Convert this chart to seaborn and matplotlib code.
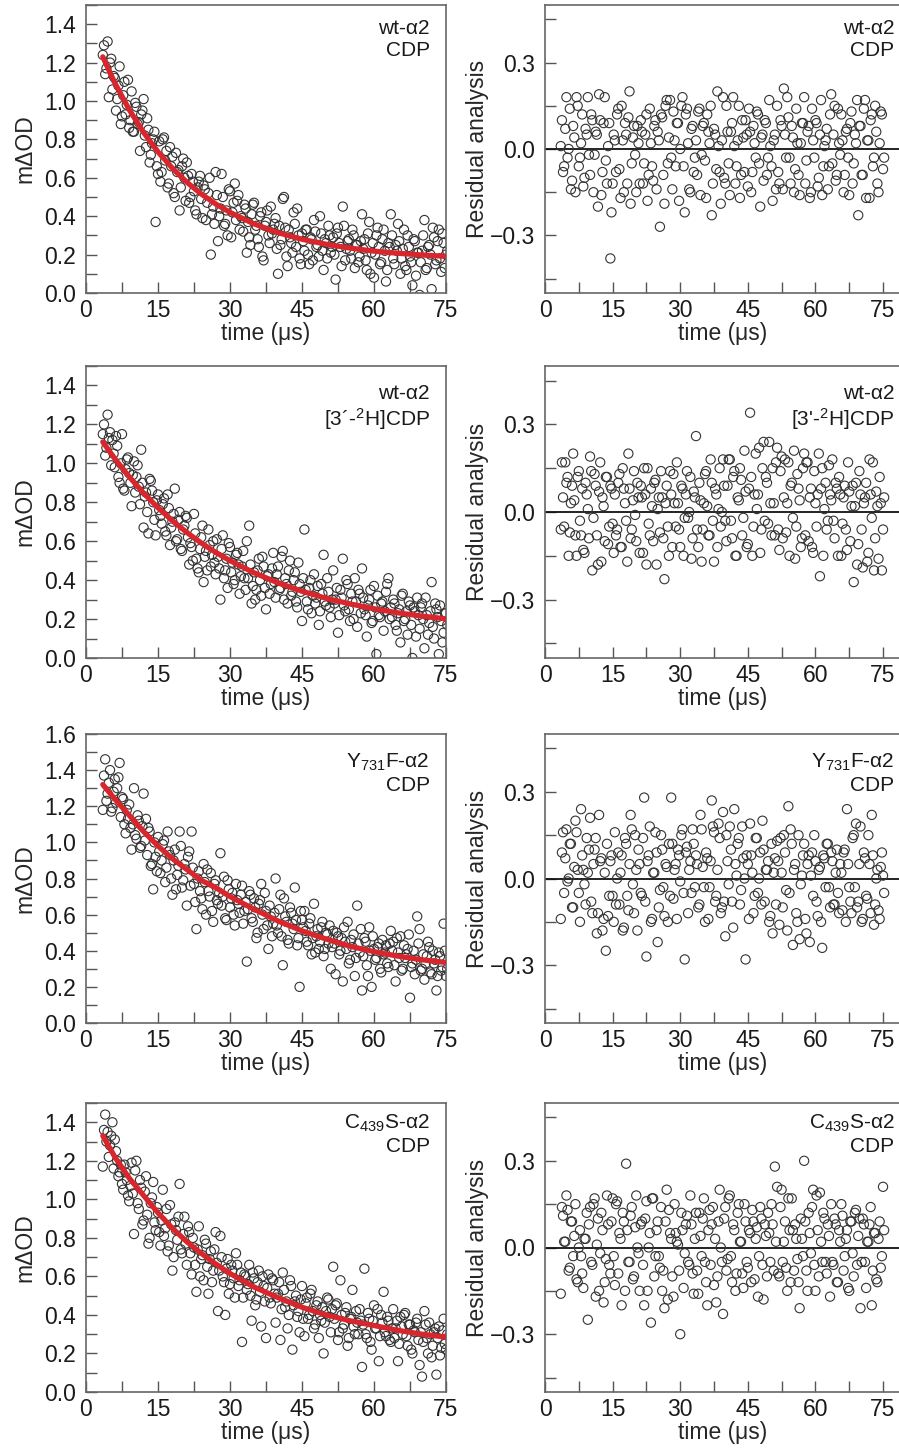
import matplotlib
matplotlib.use("Agg")
import matplotlib.pyplot as plt
import seaborn as sns
from matplotlib.ticker import MultipleLocator

sns.set_theme(style="ticks")
plt.rcParams['font.family'] = ['Liberation Sans', 'DejaVu Sans']
plt.rcParams['mathtext.fontset'] = 'custom'
plt.rcParams['mathtext.rm'] = 'Liberation Sans'
plt.rcParams['mathtext.it'] = 'Liberation Sans:italic'
plt.rcParams['mathtext.bf'] = 'Liberation Sans:bold'

# ---- data ----
# samples come in two interleaved sweeps
time_us = [
    3.5, 4.0, 4.5, 5.0, 5.5, 6.0, 6.5, 7.0, 7.5, 8.0, 8.5, 9.0,
    9.5, 10.0, 10.5, 11.0, 11.5, 12.0, 12.5, 13.0, 13.5, 14.0, 14.5, 15.0,
    15.5, 16.0, 16.5, 17.0, 17.5, 18.0, 18.5, 19.0, 19.5, 20.0, 20.5, 21.0,
    21.5, 22.0, 22.5, 23.0, 23.5, 24.0, 24.5, 25.0, 25.5, 26.0, 26.5, 27.0,
    27.5, 28.0, 28.5, 29.0, 29.5, 30.0, 30.5, 31.0, 31.5, 32.0, 32.5, 33.0,
    33.5, 34.0, 34.5, 35.0, 35.5, 36.0, 36.5, 37.0, 37.5, 38.0, 38.5, 39.0,
    39.5, 40.0, 40.5, 41.0, 41.5, 42.0, 42.5, 43.0, 43.5, 44.0, 44.5, 45.0,
    45.5, 46.0, 46.5, 47.0, 47.5, 48.0, 48.5, 49.0, 49.5, 50.0, 50.5, 51.0,
    51.5, 52.0, 52.5, 53.0, 53.5, 54.0, 54.5, 55.0, 55.5, 56.0, 56.5, 57.0,
    57.5, 58.0, 58.5, 59.0, 59.5, 60.0, 60.5, 61.0, 61.5, 62.0, 62.5, 63.0,
    63.5, 64.0, 64.5, 65.0, 65.5, 66.0, 66.5, 67.0, 67.5, 68.0, 68.5, 69.0,
    69.5, 70.0, 70.5, 71.0, 71.5, 72.0, 72.5, 73.0, 73.5, 74.0, 74.5, 75.0,
]
time_us_b = [
    3.75, 4.25, 4.75, 5.25, 5.75, 6.25, 6.75, 7.25, 7.75, 8.25, 8.75, 9.25,
    9.75, 10.25, 10.75, 11.25, 11.75, 12.25, 12.75, 13.25, 13.75, 14.25, 14.75, 15.25,
    15.75, 16.25, 16.75, 17.25, 17.75, 18.25, 18.75, 19.25, 19.75, 20.25, 20.75, 21.25,
    21.75, 22.25, 22.75, 23.25, 23.75, 24.25, 24.75, 25.25, 25.75, 26.25, 26.75, 27.25,
    27.75, 28.25, 28.75, 29.25, 29.75, 30.25, 30.75, 31.25, 31.75, 32.25, 32.75, 33.25,
    33.75, 34.25, 34.75, 35.25, 35.75, 36.25, 36.75, 37.25, 37.75, 38.25, 38.75, 39.25,
    39.75, 40.25, 40.75, 41.25, 41.75, 42.25, 42.75, 43.25, 43.75, 44.25, 44.75, 45.25,
    45.75, 46.25, 46.75, 47.25, 47.75, 48.25, 48.75, 49.25, 49.75, 50.25, 50.75, 51.25,
    51.75, 52.25, 52.75, 53.25, 53.75, 54.25, 54.75, 55.25, 55.75, 56.25, 56.75, 57.25,
    57.75, 58.25, 58.75, 59.25, 59.75, 60.25, 60.75, 61.25, 61.75, 62.25, 62.75, 63.25,
    63.75, 64.25, 64.75, 65.25, 65.75, 66.25, 66.75, 67.25, 67.75, 68.25, 68.75, 69.25,
    69.75, 70.25, 70.75, 71.25, 71.75, 72.25, 72.75, 73.25, 73.75, 74.25, 74.75, 75.25,
]

fit_time = [3.5, 6, 9, 12, 15, 18, 21, 24, 27, 30, 35, 40, 45, 50, 55, 60, 65, 70, 75]

fit_wt_cdp = [1.23, 1.094, 0.955, 0.836, 0.735, 0.650, 0.577, 0.516, 0.464, 0.420,
              0.360, 0.314, 0.280, 0.254, 0.234, 0.218, 0.207, 0.198, 0.191]
fit_wt_d = [1.11, 1.024, 0.931, 0.847, 0.772, 0.705, 0.645, 0.591, 0.543, 0.500,
            0.438, 0.386, 0.343, 0.307, 0.278, 0.253, 0.232, 0.215, 0.201]
fit_y731f = [1.32, 1.24, 1.15, 1.06, 0.98, 0.91, 0.85, 0.79, 0.75, 0.70,
             0.63, 0.565, 0.51, 0.465, 0.425, 0.395, 0.37, 0.35, 0.335]
fit_c439s = [1.33, 1.22, 1.11, 1.02, 0.93, 0.85, 0.78, 0.72, 0.665, 0.615,
             0.545, 0.49, 0.44, 0.40, 0.37, 0.345, 0.32, 0.30, 0.285]

od_wt_cdp = [
    1.24, 1.14, 1.31, 1.20, 1.06, 1.12, 1.01, 1.18, 0.92, 1.10, 0.98, 0.86,
    1.05, 0.84, 0.97, 0.89, 0.93, 1.01, 0.76, 0.85, 0.72, 0.80, 0.37, 0.62,
    0.58, 0.80, 0.69, 0.55, 0.76, 0.71, 0.50, 0.63, 0.43, 0.66, 0.60, 0.68,
    0.47, 0.62, 0.53, 0.41, 0.58, 0.49, 0.56, 0.38, 0.52, 0.20, 0.45, 0.63,
    0.27, 0.44, 0.50, 0.36, 0.30, 0.53, 0.42, 0.57, 0.48, 0.33, 0.39, 0.46,
    0.21, 0.29, 0.41, 0.47, 0.35, 0.24, 0.42, 0.17, 0.37, 0.30, 0.45, 0.33,
    0.39, 0.10, 0.25, 0.49, 0.34, 0.14, 0.29, 0.21, 0.36, 0.44, 0.18, 0.31,
    0.22, 0.33, 0.15, 0.28, 0.38, 0.24, 0.19, 0.31, 0.12, 0.26, 0.35, 0.21,
    0.29, 0.07, 0.34, 0.24, 0.45, 0.17, 0.27, 0.22, 0.33, 0.13, 0.25, 0.19,
    0.41, 0.28, 0.12, 0.37, 0.21, 0.08, 0.30, 0.24, 0.16, 0.33, 0.06, 0.26,
    0.41, 0.18, 0.25, 0.36, 0.10, 0.23, 0.14, 0.30, 0.19, 0.04, 0.27, 0.21,
    -0.01, 0.22, 0.38, 0.13, 0.25, 0.02, 0.29, 0.17, 0.33, 0.11, 0.26, 0.20,
]
od_wt_cdp_b = [
    1.29, 1.17, 1.02, 1.22, 1.13, 0.95, 1.08, 0.88, 1.03, 0.93, 1.11, 0.90,
    0.84, 0.99, 0.88, 0.74, 0.95, 0.82, 0.91, 0.68, 0.78, 0.84, 0.66, 0.79,
    0.63, 0.81, 0.74, 0.57, 0.66, 0.52, 0.73, 0.64, 0.55, 0.70, 0.48, 0.61,
    0.50, 0.58, 0.43, 0.55, 0.61, 0.39, 0.54, 0.47, 0.60, 0.41, 0.36, 0.51,
    0.40, 0.62, 0.35, 0.43, 0.54, 0.29, 0.47, 0.38, 0.51, 0.40, 0.32, 0.44,
    0.37, 0.25, 0.46, 0.33, 0.28, 0.40, 0.19, 0.35, 0.43, 0.26, 0.31, 0.36,
    0.23, 0.35, 0.28, 0.50, 0.19, 0.33, 0.26, 0.42, 0.24, 0.30, 0.15, 0.27,
    0.33, 0.20, 0.29, 0.17, 0.32, 0.25, 0.40, 0.22, 0.28, 0.18, 0.30, 0.24,
    0.20, 0.31, 0.26, 0.14, 0.35, 0.23, 0.28, 0.18, 0.30, 0.25, 0.16, 0.27,
    0.23, 0.17, 0.31, 0.10, 0.26, 0.20, 0.34, 0.15, 0.28, 0.22, 0.12, 0.24,
    0.30, 0.15, 0.22, 0.27, 0.18, 0.33, 0.12, 0.24, 0.16, 0.28, 0.09, 0.21,
    0.16, 0.30, 0.12, 0.24, 0.20, 0.34, 0.15, 0.27, 0.18, 0.31, 0.13, 0.22,
]
res_wt_cdp = [
    0.01, -0.08, 0.07, -0.03, 0.14, -0.11, 0.04, 0.18, -0.06, 0.02, -0.13, 0.07,
    0.18, -0.09, 0.10, -0.02, 0.05, 0.19, -0.16, 0.09, -0.04, 0.01, -0.38, -0.12,
    0.03, 0.12, -0.07, 0.15, -0.15, 0.05, 0.11, -0.19, 0.04, -0.02, 0.08, -0.12,
    0.06, -0.05, 0.12, -0.09, 0.02, -0.11, 0.10, 0.06, -0.27, 0.11, -0.19, 0.17,
    0.04, -0.03, 0.13, -0.06, 0.09, 0.00, 0.18, -0.22, 0.14, -0.14, 0.07, -0.08,
    0.03, 0.13, -0.16, 0.08, -0.04, 0.12, 0.02, -0.23, 0.07, -0.07, 0.01, -0.19,
    0.18, -0.12, 0.06, -0.16, 0.09, 0.01, -0.06, 0.15, -0.09, 0.04, 0.10, -0.13,
    0.06, -0.08, 0.02, 0.13, -0.05, 0.04, -0.11, 0.09, -0.03, 0.01, -0.18, 0.05,
    0.15, -0.12, 0.08, 0.21, -0.03, 0.11, -0.12, 0.04, -0.07, 0.02, -0.16, 0.09,
    0.18, -0.04, 0.08, -0.15, 0.03, 0.10, -0.13, 0.05, -0.16, 0.01, 0.07, -0.06,
    0.19, 0.05, -0.11, 0.14, -0.02, 0.03, -0.09, 0.07, -0.16, 0.13, -0.05, 0.02,
    -0.23, 0.08, -0.09, 0.17, 0.03, -0.17, 0.12, -0.03, 0.06, -0.15, 0.13, -0.07,
]
res_wt_cdp_b = [
    0.10, -0.06, 0.18, 0.00, -0.14, 0.08, -0.15, 0.15, -0.03, 0.12, -0.10, 0.05,
    -0.02, 0.12, -0.15, 0.06, -0.20, 0.10, -0.08, 0.18, -0.12, 0.09, -0.22, 0.05,
    -0.08, 0.14, -0.17, 0.03, 0.09, -0.12, 0.20, -0.05, 0.08, -0.15, 0.02, 0.10,
    -0.12, 0.05, -0.18, 0.14, -0.06, 0.08, -0.14, 0.03, 0.12, -0.09, 0.15, -0.05,
    0.17, -0.14, 0.03, 0.09, -0.18, 0.15, -0.06, 0.12, 0.02, -0.15, 0.08, -0.03,
    -0.09, 0.14, -0.02, 0.09, -0.17, 0.06, 0.15, -0.12, 0.05, 0.20, -0.08, 0.03,
    -0.10, 0.15, -0.05, 0.06, 0.18, -0.12, 0.03, -0.17, 0.10, -0.08, 0.05, 0.14,
    -0.15, 0.08, -0.03, 0.12, -0.20, 0.05, 0.10, -0.09, 0.17, -0.06, 0.03, -0.14,
    -0.08, 0.10, -0.14, 0.05, 0.18, -0.03, 0.08, -0.15, 0.14, -0.09, 0.02, 0.09,
    -0.12, 0.06, -0.17, 0.14, -0.03, 0.09, -0.10, 0.17, -0.06, 0.03, -0.14, 0.12,
    -0.05, 0.15, -0.09, 0.02, 0.12, -0.15, 0.06, -0.03, 0.09, -0.12, 0.05, 0.17,
    0.08, -0.09, 0.14, -0.17, 0.03, 0.10, -0.06, 0.15, -0.12, 0.02, 0.12, -0.03,
]

od_wt_d = [
    1.15, 1.04, 1.25, 1.16, 1.12, 0.98, 1.09, 0.90, 1.15, 0.86, 1.02, 0.95,
    0.78, 1.01, 0.93, 0.88, 1.07, 0.67, 0.85, 0.64, 0.91, 0.80, 0.63, 0.84,
    0.73, 0.79, 0.65, 0.84, 0.58, 0.70, 0.87, 0.61, 0.75, 0.55, 0.68, 0.72,
    0.48, 0.57, 0.74, 0.51, 0.44, 0.62, 0.39, 0.55, 0.66, 0.47, 0.60, 0.43,
    0.52, 0.30, 0.63, 0.45, 0.36, 0.57, 0.49, 0.40, 0.54, 0.33, 0.47, 0.41,
    0.60, 0.68, 0.28, 0.44, 0.35, 0.51, 0.32, 0.47, 0.25, 0.43, 0.38, 0.54,
    0.31, 0.47, 0.36, 0.55, 0.41, 0.28, 0.50, 0.34, 0.44, 0.26, 0.38, 0.19,
    0.66, 0.29, 0.36, 0.23, 0.43, 0.31, 0.17, 0.38, 0.53, 0.27, 0.34, 0.21,
    0.45, 0.30, 0.13, 0.35, 0.51, 0.24, 0.38, 0.19, 0.29, 0.41, 0.16, 0.33,
    0.46, 0.25, 0.11, 0.30, 0.18, 0.37, 0.02, 0.22, 0.28, 0.14, 0.34, 0.41,
    0.26, 0.30, 0.17, 0.23, 0.08, 0.33, 0.20, 0.12, 0.27, 0.00, 0.24, 0.31,
    0.15, 0.28, 0.05, 0.22, 0.18, 0.39, 0.10, 0.25, 0.02, 0.19, 0.13, 0.23,
]
od_wt_d_b = [
    1.20, 1.08, 1.13, 0.99, 1.05, 1.14, 0.93, 1.00, 0.87, 0.97, 1.03, 0.90,
    0.94, 0.85, 0.99, 0.79, 0.90, 0.83, 0.75, 0.92, 0.86, 0.71, 0.81, 0.76,
    0.69, 0.82, 0.63, 0.77, 0.67, 0.74, 0.60, 0.71, 0.56, 0.66, 0.73, 0.62,
    0.59, 0.50, 0.64, 0.46, 0.56, 0.68, 0.52, 0.45, 0.58, 0.53, 0.49, 0.61,
    0.46, 0.56, 0.41, 0.51, 0.59, 0.44, 0.38, 0.53, 0.48, 0.42, 0.55, 0.35,
    0.41, 0.48, 0.37, 0.30, 0.45, 0.40, 0.52, 0.36, 0.42, 0.33, 0.46, 0.39,
    0.43, 0.35, 0.52, 0.30, 0.38, 0.45, 0.32, 0.40, 0.29, 0.49, 0.34, 0.41,
    0.35, 0.25, 0.40, 0.32, 0.28, 0.37, 0.24, 0.33, 0.29, 0.41, 0.26, 0.30,
    0.28, 0.36, 0.22, 0.31, 0.27, 0.40, 0.25, 0.33, 0.20, 0.29, 0.35, 0.23,
    0.31, 0.22, 0.27, 0.35, 0.19, 0.26, 0.32, 0.21, 0.29, 0.24, 0.38, 0.20,
    0.21, 0.28, 0.14, 0.25, 0.32, 0.19, 0.24, 0.29, 0.17, 0.26, 0.11, 0.22,
    0.26, 0.20, 0.31, 0.12, 0.24, 0.16, 0.28, 0.21, 0.27, 0.08, 0.23, 0.17,
]
res_wt_d = [
    -0.06, 0.05, 0.17, 0.12, -0.07, 0.09, 0.04, -0.15, 0.14, -0.08, -0.13, 0.10,
    0.01, 0.19, -0.20, 0.13, -0.08, 0.07, -0.17, 0.02, 0.12, -0.11, 0.09, -0.04,
    0.06, -0.06, 0.13, -0.12, 0.08, -0.03, 0.20, -0.09, 0.04, -0.01, 0.10, -0.14,
    0.05, 0.15, -0.18, -0.04, 0.08, -0.10, 0.11, 0.01, -0.07, 0.05, -0.23, 0.09,
    -0.15, 0.06, 0.13, -0.05, 0.03, -0.12, 0.08, -0.02, 0.14, 0.00, -0.16, 0.07,
    0.26, -0.12, 0.04, -0.06, 0.13, 0.02, -0.08, 0.10, -0.17, 0.06, 0.01, -0.05,
    0.18, -0.03, 0.09, 0.18, -0.09, 0.14, -0.15, 0.04, 0.11, -0.02, 0.07, -0.11,
    0.34, -0.15, 0.06, 0.01, 0.22, -0.06, 0.24, 0.12, -0.04, 0.03, 0.15, -0.08,
    0.22, -0.13, 0.19, 0.05, -0.07, 0.17, 0.09, -0.02, -0.16, 0.13, 0.04, -0.09,
    0.20, 0.17, -0.10, 0.08, -0.14, 0.03, 0.06, -0.22, 0.15, 0.01, -0.06, 0.16,
    0.04, -0.03, 0.10, -0.15, 0.06, -0.04, 0.09, -0.13, 0.07, 0.02, -0.24, 0.10,
    -0.11, 0.06, -0.19, 0.05, -0.17, 0.18, -0.02, -0.20, 0.07, -0.16, 0.03, -0.06,
]
res_wt_d_b = [
    0.17, -0.05, 0.10, -0.15, 0.03, 0.20, -0.08, 0.12, -0.03, 0.08, -0.14, 0.06,
    -0.09, 0.14, -0.02, 0.09, -0.18, 0.17, 0.05, -0.10, 0.12, -0.05, 0.08, -0.14,
    -0.08, 0.10, -0.12, 0.15, 0.03, -0.17, 0.08, -0.06, 0.14, -0.10, 0.05, 0.09,
    -0.14, 0.06, 0.15, -0.08, 0.02, 0.10, -0.18, 0.05, 0.14, -0.09, 0.03, -0.05,
    0.14, -0.12, 0.03, 0.17, -0.06, 0.09, -0.15, 0.06, -0.02, 0.12, -0.09, 0.05,
    -0.06, 0.10, -0.17, 0.03, 0.14, -0.08, 0.18, -0.03, 0.08, -0.12, 0.15, 0.00,
    0.09, -0.10, 0.18, -0.03, 0.12, -0.15, 0.05, 0.15, -0.08, 0.21, -0.12, 0.08,
    0.12, -0.05, 0.20, 0.06, -0.14, 0.15, -0.03, 0.10, 0.24, -0.08, 0.03, 0.17,
    -0.06, 0.14, -0.09, 0.18, 0.03, -0.15, 0.10, 0.21, -0.05, 0.08, -0.12, 0.15,
    -0.08, 0.17, 0.05, -0.12, 0.14, -0.05, 0.20, 0.08, -0.15, 0.10, -0.03, 0.06,
    0.18, -0.09, 0.08, 0.12, -0.15, 0.05, -0.06, 0.17, -0.10, 0.09, 0.02, -0.18,
    0.14, -0.06, 0.03, 0.10, -0.14, 0.06, 0.17, -0.09, 0.02, 0.12, -0.20, 0.05,
]

od_y731f = [
    1.18, 1.46, 1.27, 1.40, 1.19, 1.35, 1.30, 1.44, 1.25, 1.10, 1.18, 1.21,
    0.96, 1.30, 1.02, 1.12, 0.98, 1.27, 1.13, 1.08, 0.87, 0.74, 0.92, 1.03,
    0.83, 0.99, 0.78, 1.06, 0.93, 0.71, 0.96, 0.82, 1.06, 0.75, 0.88, 0.65,
    0.95, 1.06, 0.77, 0.52, 0.84, 0.69, 0.88, 0.60, 0.73, 0.83, 0.56, 0.79,
    0.66, 0.94, 0.70, 0.58, 0.79, 0.64, 0.72, 0.54, 0.68, 0.61, 0.76, 0.62,
    0.34, 0.73, 0.58, 0.69, 0.47, 0.66, 0.77, 0.52, 0.62, 0.41, 0.59, 0.55,
    0.80, 0.50, 0.71, 0.32, 0.59, 0.46, 0.64, 0.55, 0.75, 0.43, 0.20, 0.57,
    0.62, 0.45, 0.55, 0.38, 0.66, 0.48, 0.41, 0.53, 0.37, 0.50, 0.44, 0.30,
    0.51, 0.27, 0.48, 0.40, 0.23, 0.45, 0.56, 0.35, 0.42, 0.26, 0.65, 0.39,
    0.18, 0.47, 0.32, 0.53, 0.20, 0.41, 0.36, 0.44, 0.28, 0.38, 0.43, 0.31,
    0.51, 0.45, 0.23, 0.39, 0.48, 0.30, 0.36, 0.41, 0.14, 0.33, 0.27, 0.59,
    0.52, 0.30, 0.24, 0.37, 0.42, 0.27, 0.33, 0.18, 0.39, 0.29, 0.55, 0.26,
]
od_y731f_b = [
    1.37, 1.23, 1.33, 1.17, 1.28, 1.22, 1.36, 1.14, 1.24, 1.05, 1.13, 1.08,
    1.10, 1.04, 1.15, 0.97, 1.09, 1.01, 0.93, 1.06, 0.88, 1.00, 0.84, 0.95,
    0.90, 1.01, 0.86, 0.95, 0.80, 0.90, 0.74, 0.87, 0.98, 0.79, 0.85, 0.92,
    0.76, 0.86, 0.67, 0.80, 0.73, 0.63, 0.78, 0.85, 0.70, 0.62, 0.77, 0.68,
    0.72, 0.65, 0.81, 0.57, 0.74, 0.69, 0.60, 0.77, 0.66, 0.71, 0.55, 0.67,
    0.63, 0.71, 0.56, 0.64, 0.50, 0.68, 0.60, 0.72, 0.54, 0.65, 0.48, 0.61,
    0.54, 0.63, 0.48, 0.69, 0.56, 0.44, 0.61, 0.52, 0.57, 0.47, 0.62, 0.53,
    0.51, 0.43, 0.58, 0.47, 0.39, 0.52, 0.45, 0.56, 0.41, 0.49, 0.54, 0.42,
    0.44, 0.50, 0.38, 0.47, 0.53, 0.41, 0.33, 0.46, 0.49, 0.36, 0.44, 0.52,
    0.37, 0.45, 0.26, 0.40, 0.48, 0.35, 0.42, 0.30, 0.46, 0.39, 0.33, 0.44,
    0.40, 0.32, 0.47, 0.36, 0.29, 0.43, 0.38, 0.49, 0.31, 0.40, 0.35, 0.44,
    0.29, 0.38, 0.33, 0.45, 0.28, 0.40, 0.35, 0.26, 0.37, 0.31, 0.40, 0.30,
]
res_y731f = [
    -0.14, 0.16, 0.07, -0.01, 0.12, -0.10, 0.04, 0.16, -0.05, 0.24, 0.03, -0.09,
    0.02, 0.21, -0.12, 0.10, -0.19, 0.22, 0.07, -0.14, -0.25, -0.13, 0.06, -0.06,
    0.16, 0.00, -0.09, 0.08, -0.17, 0.12, -0.11, 0.22, -0.02, 0.15, -0.18, 0.05,
    -0.06, 0.28, -0.27, 0.08, -0.15, 0.02, 0.16, -0.22, -0.04, 0.10, -0.13, 0.04,
    0.12, 0.28, -0.07, 0.05, 0.10, -0.01, 0.17, -0.28, 0.11, 0.03, -0.05, 0.12,
    0.08, -0.10, 0.22, 0.04, -0.15, 0.07, -0.03, 0.27, 0.16, -0.06, 0.19, -0.12,
    0.23, -0.20, 0.06, 0.18, -0.08, 0.24, 0.01, 0.14, -0.04, 0.07, -0.28, 0.05,
    0.19, 0.02, -0.06, 0.14, 0.00, -0.09, 0.10, 0.03, 0.06, -0.13, -0.19, 0.07,
    0.13, -0.16, 0.02, 0.15, -0.04, 0.25, 0.17, -0.23, 0.05, -0.15, -0.21, 0.01,
    0.12, -0.19, 0.08, 0.01, -0.06, 0.06, -0.13, 0.04, -0.24, 0.07, 0.12, -0.03,
    0.09, -0.09, 0.02, -0.05, 0.05, -0.11, 0.10, 0.24, -0.03, -0.12, 0.15, 0.19,
    -0.08, 0.18, -0.14, 0.07, -0.07, 0.05, 0.22, -0.16, 0.00, -0.11, 0.04, 0.01,
]
res_y731f_b = [
    0.09, -0.05, 0.17, 0.00, 0.12, -0.10, 0.20, 0.03, -0.15, 0.08, -0.02, 0.14,
    0.10, -0.08, 0.05, 0.14, -0.12, 0.06, -0.18, 0.02, 0.12, -0.06, 0.08, -0.15,
    -0.09, 0.09, 0.02, -0.18, 0.14, -0.06, 0.05, 0.17, -0.12, 0.03, 0.10, -0.05,
    0.14, -0.08, 0.06, 0.18, -0.14, 0.02, 0.09, -0.10, 0.15, -0.03, 0.05, -0.15,
    -0.06, 0.12, 0.03, -0.14, 0.08, 0.15, -0.05, 0.09, -0.12, 0.06, 0.17, -0.03,
    0.05, -0.09, 0.17, -0.03, 0.09, -0.14, 0.06, 0.18, -0.08, 0.03, 0.14, -0.10,
    -0.08, 0.15, -0.02, 0.10, -0.17, 0.05, 0.12, -0.09, 0.18, 0.00, 0.08, -0.14,
    0.08, -0.12, 0.14, -0.05, 0.09, 0.20, -0.08, 0.03, -0.15, 0.12, 0.02, -0.09,
    0.06, 0.14, -0.10, 0.09, -0.18, -0.05, 0.12, 0.03, -0.12, 0.15, -0.02, 0.08,
    -0.14, 0.05, -0.22, 0.09, 0.15, -0.08, 0.03, -0.15, 0.08, -0.03, 0.12, -0.10,
    0.06, -0.09, 0.10, -0.12, 0.02, 0.09, -0.15, 0.05, -0.08, 0.14, -0.03, -0.10,
    0.05, -0.15, 0.09, -0.06, 0.15, -0.12, 0.08, -0.09, 0.03, -0.14, 0.09, -0.05,
]

od_c439s = [
    1.17, 1.44, 1.35, 1.28, 1.40, 1.31, 1.20, 1.14, 1.08, 1.18, 1.10, 0.99,
    1.19, 0.82, 1.20, 0.95, 1.06, 0.89, 1.12, 0.77, 0.98, 1.09, 0.84, 0.93,
    0.76, 1.05, 0.85, 0.73, 0.97, 0.63, 0.88, 0.79, 1.08, 0.72, 0.91, 0.66,
    0.83, 0.61, 0.75, 0.52, 0.86, 0.69, 0.58, 0.77, 0.51, 0.73, 0.63, 0.83,
    0.42, 0.81, 0.60, 0.40, 0.69, 0.56, 0.63, 0.49, 0.66, 0.58, 0.26, 0.61,
    0.53, 0.66, 0.37, 0.59, 0.48, 0.63, 0.34, 0.55, 0.28, 0.61, 0.46, 0.58,
    0.36, 0.51, 0.27, 0.62, 0.44, 0.33, 0.58, 0.22, 0.47, 0.39, 0.31, 0.55,
    0.29, 0.49, 0.40, 0.53, 0.33, 0.45, 0.28, 0.37, 0.20, 0.42, 0.48, 0.31,
    0.65, 0.45, 0.27, 0.58, 0.33, 0.41, 0.24, 0.38, 0.53, 0.30, 0.36, 0.43,
    0.13, 0.64, 0.28, 0.38, 0.22, 0.45, 0.33, 0.16, 0.40, 0.52, 0.29, 0.37,
    0.26, 0.43, 0.33, 0.16, 0.39, 0.30, 0.41, 0.24, 0.35, 0.20, 0.31, 0.38,
    0.14, 0.08, 0.42, 0.28, 0.36, 0.18, 0.31, 0.09, 0.34, 0.23, 0.38, 0.22,
]
od_c439s_b = [
    1.36, 1.30, 1.22, 1.33, 1.16, 1.25, 1.12, 1.18, 1.05, 1.14, 1.02, 1.07,
    1.03, 1.15, 0.98, 1.10, 0.87, 1.04, 0.92, 0.80, 1.01, 0.88, 0.96, 0.83,
    0.89, 0.81, 0.95, 0.76, 0.87, 0.70, 0.84, 0.91, 0.74, 0.82, 0.77, 0.86,
    0.72, 0.80, 0.66, 0.74, 0.60, 0.71, 0.79, 0.65, 0.69, 0.57, 0.74, 0.67,
    0.63, 0.70, 0.57, 0.64, 0.51, 0.66, 0.59, 0.72, 0.55, 0.62, 0.49, 0.60,
    0.56, 0.50, 0.62, 0.45, 0.57, 0.52, 0.60, 0.47, 0.54, 0.49, 0.59, 0.51,
    0.49, 0.57, 0.43, 0.53, 0.47, 0.40, 0.55, 0.45, 0.50, 0.42, 0.48, 0.38,
    0.46, 0.38, 0.51, 0.42, 0.35, 0.47, 0.40, 0.44, 0.36, 0.49, 0.39, 0.43,
    0.38, 0.46, 0.31, 0.40, 0.35, 0.44, 0.28, 0.39, 0.34, 0.42, 0.30, 0.37,
    0.35, 0.30, 0.41, 0.26, 0.37, 0.33, 0.43, 0.29, 0.36, 0.31, 0.39, 0.27,
    0.33, 0.28, 0.37, 0.25, 0.34, 0.40, 0.29, 0.35, 0.22, 0.32, 0.36, 0.27,
    0.31, 0.26, 0.35, 0.20, 0.30, 0.24, 0.33, 0.28, 0.19, 0.32, 0.25, 0.30,
]
res_c439s = [
    -0.16, 0.11, 0.02, 0.13, -0.07, 0.09, 0.04, -0.11, 0.00, -0.03, -0.14, 0.03,
    -0.25, 0.14, -0.06, 0.17, 0.01, -0.15, 0.12, -0.19, -0.04, 0.08, -0.09, 0.17,
    -0.13, 0.16, 0.05, -0.20, 0.09, 0.29, -0.05, 0.11, -0.11, 0.07, 0.00, -0.15,
    0.09, -0.20, 0.16, 0.00, -0.26, 0.17, -0.03, 0.09, -0.07, -0.15, -0.21, 0.20,
    0.13, 0.03, -0.17, 0.05, 0.01, -0.30, 0.06, -0.02, 0.11, -0.06, 0.08, -0.16,
    0.12, -0.16, 0.04, 0.10, -0.05, -0.20, 0.13, 0.08, -0.13, -0.19, 0.09, 0.00,
    -0.23, 0.14, -0.04, 0.18, -0.12, 0.06, -0.09, 0.15, 0.02, -0.14, 0.09, -0.07,
    0.05, 0.13, -0.11, 0.07, -0.03, 0.10, -0.18, 0.04, 0.12, -0.05, 0.08, 0.28,
    0.21, -0.10, 0.20, 0.02, -0.07, 0.17, -0.12, 0.06, 0.08, -0.04, -0.21, 0.03,
    0.30, -0.08, 0.12, -0.02, 0.20, -0.15, 0.06, 0.19, -0.05, 0.10, -0.09, 0.04,
    0.15, -0.06, 0.08, -0.12, 0.02, 0.11, -0.03, 0.06, -0.15, 0.09, -0.10, 0.13,
    0.04, -0.21, 0.10, -0.05, 0.02, 0.08, -0.20, 0.05, -0.11, 0.03, -0.07, 0.21,
]
res_c439s_b = [
    0.14, 0.02, 0.18, -0.08, 0.09, -0.03, 0.15, -0.12, 0.06, -0.09, 0.03, 0.12,
    0.08, -0.05, 0.15, -0.17, 0.10, -0.02, 0.06, -0.12, 0.18, -0.06, 0.09, -0.03,
    0.15, -0.09, 0.03, 0.12, -0.15, 0.06, -0.05, 0.14, -0.10, 0.18, -0.02, 0.08,
    -0.06, 0.10, -0.15, 0.05, 0.17, -0.10, 0.06, -0.03, 0.14, -0.08, 0.09, -0.18,
    0.05, -0.10, 0.15, 0.02, -0.08, 0.12, -0.14, 0.08, -0.05, 0.18, -0.09, 0.03,
    -0.08, 0.12, -0.03, 0.17, -0.12, 0.06, -0.06, 0.14, 0.03, -0.10, 0.20, -0.05,
    0.10, -0.08, 0.17, -0.03, 0.08, -0.15, 0.12, 0.02, -0.09, 0.15, -0.05, 0.06,
    -0.12, 0.09, 0.03, -0.17, 0.14, -0.06, 0.08, -0.10, 0.05, 0.15, -0.08, 0.02,
    -0.09, 0.14, -0.05, 0.09, -0.15, 0.06, 0.17, -0.08, 0.03, -0.12, 0.10, -0.03,
    0.09, -0.15, 0.05, 0.14, -0.06, 0.18, -0.10, 0.02, 0.12, -0.05, 0.08, -0.17,
    -0.05, 0.10, -0.12, 0.06, 0.15, -0.08, 0.03, -0.14, 0.09, -0.02, 0.12, -0.06,
    0.10, -0.05, 0.08, -0.14, 0.02, 0.14, -0.08, 0.05, -0.12, 0.09, -0.03, 0.06,
]

labels_left = ["wt-α2\nCDP", "wt-α2\n[3´-$^{2}$H]CDP",
               "Y$_{731}$F-α2\nCDP", "C$_{439}$S-α2\nCDP"]
labels_right = ["wt-α2\nCDP", "wt-α2\n[3'-$^{2}$H]CDP",
                "Y$_{731}$F-α2\nCDP", "C$_{439}$S-α2\nCDP"]
od_sets = [od_wt_cdp + od_wt_cdp_b, od_wt_d + od_wt_d_b,
           od_y731f + od_y731f_b, od_c439s + od_c439s_b]
fit_sets = [fit_wt_cdp, fit_wt_d, fit_y731f, fit_c439s]
res_sets = [res_wt_cdp + res_wt_cdp_b, res_wt_d + res_wt_d_b,
            res_y731f + res_y731f_b, res_c439s + res_c439s_b]
all_time = time_us + time_us_b
od_ymax = [1.5, 1.5, 1.6, 1.5]

# ---- layout (pixels of the 899x1452 canvas) ----
W, H = 899, 1452
row_px = [(5, 293), (366, 658), (734, 1023), (1103, 1392)]
label_y = [0.95, 0.94, 0.94, 0.965]

FONT = 16.5
EDGE = '#333333'
RED = '#d8262c'


def style_axes(ax):
    ax.xaxis.set_major_locator(MultipleLocator(15))
    ax.xaxis.set_minor_locator(MultipleLocator(7.5))
    ax.tick_params(which='both', direction='in', top=False, right=False,
                   color='#555555', width=1.0, length=8,
                   labelsize=FONT, labelcolor='#1a1a1a')
    ax.tick_params(axis='x', which='both', pad=4)
    ax.tick_params(axis='y', which='both', pad=7)
    for s in ax.spines.values():
        s.set_color('#666666')
        s.set_linewidth(1.2)


fig = plt.figure(figsize=(W / 100, H / 100), dpi=100)

for i in range(4):
    top, bot = row_px[i]
    y0 = 1 - bot / H
    h = (bot - top) / H

    # left: decay trace with fit
    ax = fig.add_axes([86 / W, y0, 360 / W, h])
    sns.scatterplot(x=all_time, y=od_sets[i], ax=ax, s=44, marker='o',
                    facecolor='none', edgecolor=EDGE, linewidth=0.8,
                    legend=False, zorder=2)
    sns.lineplot(x=fit_time, y=fit_sets[i], ax=ax, color=RED,
                 linewidth=3.8, legend=False, zorder=3)
    ax.set_xlim(0, 75)
    ax.set_ylim(0, od_ymax[i])
    ax.yaxis.set_major_locator(MultipleLocator(0.2))
    ax.yaxis.set_minor_locator(MultipleLocator(0.1))
    style_axes(ax)
    ax.set_xlabel("time (μs)", fontsize=FONT, labelpad=0)
    ax.set_ylabel("mΔOD", fontsize=FONT, labelpad=6)
    ax.text(0.955, label_y[i], labels_left[i], transform=ax.transAxes,
            ha='right', va='top', fontsize=15, color='#1a1a1a',
            multialignment='right')

    # right: residuals
    ax = fig.add_axes([545 / W, y0, 356 / W, h])
    ax.axhline(0, color='#111111', linewidth=1.3, zorder=1)
    sns.scatterplot(x=all_time, y=res_sets[i], ax=ax, s=44, marker='o',
                    facecolor='none', edgecolor=EDGE, linewidth=0.8,
                    legend=False, zorder=2)
    ax.set_xlim(0, 356 / 4.507)
    ax.set_ylim(-0.5, 0.5)
    ax.yaxis.set_major_locator(MultipleLocator(0.3))
    ax.yaxis.set_minor_locator(MultipleLocator(0.15))
    style_axes(ax)
    ax.set_xlabel("time (μs)", fontsize=FONT, labelpad=0)
    ax.set_ylabel("Residual analysis", fontsize=FONT, labelpad=1)
    ax.text(0.982, label_y[i], labels_right[i], transform=ax.transAxes,
            ha='right', va='top', fontsize=15, color='#1a1a1a',
            multialignment='right')

fig.savefig("out.png", dpi=100)
